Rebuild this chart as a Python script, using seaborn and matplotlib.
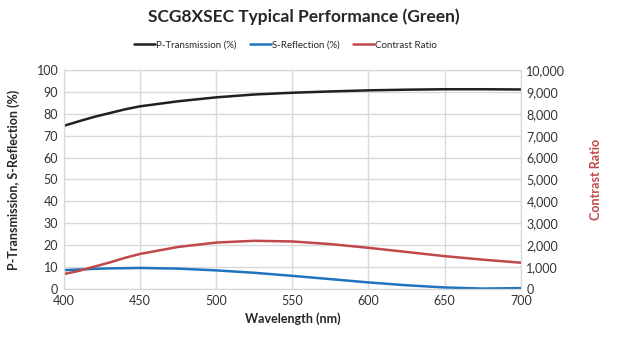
# SCG8XSEC typical performance (green) - dual axis line chart
import numpy as np
import pandas as pd
import seaborn as sns
import matplotlib.pyplot as plt

# values
wavelength = [400, 410, 420, 430, 440, 450, 475, 500, 525, 550, 575, 600, 625, 650, 675, 700]
p_transmission = [74.5, 76.6, 78.6, 80.3, 82.0, 83.4, 85.7, 87.5, 88.8, 89.6, 90.2, 90.7, 91.0, 91.2, 91.2, 91.1]
s_reflection = [8.6, 8.9, 9.2, 9.4, 9.5, 9.6, 9.3, 8.5, 7.4, 6.0, 4.5, 3.0, 1.7, 0.7, 0.2, 0.4]
contrast_ratio = [680, 830, 1020, 1210, 1420, 1600, 1920, 2120, 2200, 2170, 2050, 1880, 1690, 1500, 1340, 1200]

data = pd.DataFrame({
    "Wavelength": wavelength,
    "P": p_transmission,
    "S": s_reflection,
    "CR": contrast_ratio,
})

sns.set_style("white")
plt.rcParams["font.family"] = ["Lato", "DejaVu Sans"]

black = "#231f20"
blue = "#1f74bd"
red = "#c0474a"
grid_col = "#d9d9d9"

fig, ax = plt.subplots(figsize=(6.2, 3.38), dpi=100)
fig.subplots_adjust(left=0.103, right=0.84, top=0.793, bottom=0.145)
ax2 = ax.twinx()

sns.lineplot(data=data, x="Wavelength", y="P", ax=ax, color=black, lw=1.8, label="P-Transmission (%)", legend=False)
sns.lineplot(data=data, x="Wavelength", y="S", ax=ax, color=blue, lw=1.8, label="S-Reflection (%)", legend=False)
sns.lineplot(data=data, x="Wavelength", y="CR", ax=ax2, color=red, lw=1.8, label="Contrast Ratio", legend=False)

ax.set_xlim(400, 700)
ax.set_ylim(0, 100)
ax2.set_ylim(0, 10000)
ax.set_xticks(range(400, 701, 50))
ax.set_yticks(range(0, 101, 10))
ax2.set_yticks(range(0, 10001, 1000))
ax2.set_yticklabels([f"{v:,}" for v in range(0, 10001, 1000)])

ax.grid(True, color=grid_col, lw=1)
ax.set_axisbelow(True)
for a in (ax, ax2):
    for s in a.spines.values():
        s.set_color(grid_col)
    a.tick_params(length=0, labelsize=9, colors="#333333", pad=4)

ax.set_xlabel("Wavelength (nm)", fontsize=9, fontweight="bold")
ax.set_ylabel("P-Transmission, S-Reflection (%)", fontsize=9, fontweight="bold", labelpad=12)
ax2.set_ylabel("Contrast Ratio", fontsize=9, fontweight="bold", color=red, labelpad=18)

fig.suptitle("SCG8XSEC Typical Performance (Green)", fontsize=12.5, fontweight="bold", x=0.49, y=0.975)

handles = ax.get_lines() + ax2.get_lines()
fig.legend(handles, [h.get_label() for h in handles], loc="upper center", bbox_to_anchor=(0.46, 0.905),
           ncol=3, frameon=False, fontsize=7, handlelength=2.2, handletextpad=0.05, columnspacing=1.4)

plt.savefig("out.png", dpi=100)
